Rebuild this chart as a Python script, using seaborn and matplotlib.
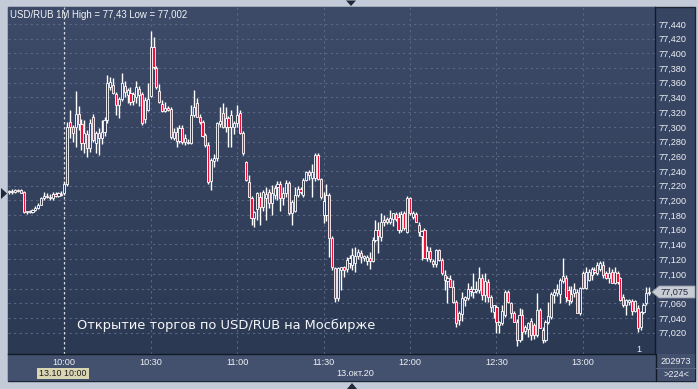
import numpy as np
import pandas as pd
import matplotlib
matplotlib.use("Agg")
import matplotlib.pyplot as plt
import seaborn as sns
from matplotlib.patches import Rectangle, Polygon
from matplotlib.colors import LinearSegmentedColormap

# ---------------- data (1-minute candles from 09:41) ----------------
opens = [77.211, 77.213, 77.211, 77.214, 77.214, 77.212, 77.184, 77.185, 77.184, 77.187,
         77.190, 77.194, 77.203, 77.206, 77.205, 77.203, 77.208, 77.206, 77.209, 77.210,
         77.222, 77.307, 77.300, 77.300, 77.318, 77.304, 77.278, 77.290, 77.271, 77.313,
         77.278, 77.292, 77.285, 77.293, 77.309, 77.354, 77.357, 77.345, 77.330, 77.338,
         77.356, 77.343, 77.346, 77.335, 77.340, 77.352, 77.344, 77.310, 77.323, 77.342,
         77.409, 77.380, 77.349, 77.331, 77.322, 77.326, 77.324, 77.285, 77.293, 77.281,
         77.298, 77.279, 77.280, 77.278, 77.316, 77.333, 77.314, 77.306, 77.289, 77.275,
         77.226, 77.254, 77.258, 77.304, 77.319, 77.300, 77.312, 77.300, 77.300, 77.305,
         77.319, 77.292, 77.252, 77.225, 77.203, 77.176, 77.188, 77.205, 77.191, 77.203,
         77.211, 77.196, 77.207, 77.218, 77.222, 77.203, 77.210, 77.223, 77.183, 77.186,
         77.207, 77.216, 77.207, 77.228, 77.238, 77.230, 77.230, 77.262, 77.229, 77.180,
         77.180, 77.207, 77.149, 77.108, 77.067, 77.105, 77.109, 77.106, 77.115, 77.112,
         77.115, 77.124, 77.128, 77.121, 77.118, 77.122, 77.118, 77.146, 77.160, 77.150,
         77.170, 77.175, 77.171, 77.175, 77.181, 77.178, 77.160, 77.183, 77.157, 77.203,
         77.178, 77.181, 77.167, 77.152, 77.160, 77.122, 77.131, 77.117, 77.113, 77.132,
         77.119, 77.098, 77.090, 77.093, 77.082, 77.062, 77.037, 77.045, 77.064, 77.067,
         77.079, 77.076, 77.077, 77.078, 77.094, 77.071, 77.089, 77.068, 77.048, 77.055,
         77.030, 77.033, 77.044, 77.075, 77.060, 77.047, 77.035, 77.010, 77.044, 77.022,
         77.025, 77.036, 77.030, 77.017, 77.051, 77.024, 77.010, 77.035, 77.041, 77.071,
         77.074, 77.072, 77.090, 77.094, 77.078, 77.072, 77.074, 77.076, 77.047, 77.101,
         77.081, 77.092, 77.099, 77.105, 77.101, 77.106, 77.112, 77.101, 77.095, 77.103,
         77.088, 77.101, 77.094, 77.069, 77.058, 77.062, 77.063, 77.050, 77.054, 77.028,
         77.048, 77.060, 77.074]
highs = [77.214, 77.215, 77.216, 77.216, 77.216, 77.213, 77.186, 77.187, 77.188, 77.192,
         77.196, 77.204, 77.212, 77.210, 77.209, 77.211, 77.212, 77.211, 77.213, 77.226,
         77.306, 77.323, 77.303, 77.349, 77.329, 77.310, 77.309, 77.296, 77.310, 77.318,
         77.295, 77.298, 77.309, 77.314, 77.371, 77.368, 77.366, 77.348, 77.341, 77.373,
         77.362, 77.353, 77.354, 77.347, 77.362, 77.355, 77.347, 77.340, 77.360, 77.430,
         77.422, 77.383, 77.358, 77.336, 77.334, 77.328, 77.327, 77.298, 77.300, 77.303,
         77.302, 77.290, 77.283, 77.330, 77.350, 77.339, 77.318, 77.309, 77.292, 77.279,
         77.258, 77.263, 77.306, 77.327, 77.332, 77.327, 77.315, 77.323, 77.308, 77.330,
         77.323, 77.295, 77.254, 77.235, 77.206, 77.186, 77.212, 77.212, 77.214, 77.218,
         77.215, 77.221, 77.221, 77.226, 77.226, 77.218, 77.228, 77.226, 77.200, 77.218,
         77.219, 77.218, 77.230, 77.240, 77.241, 77.250, 77.265, 77.265, 77.231, 77.212,
         77.222, 77.210, 77.152, 77.110, 77.110, 77.110, 77.111, 77.123, 77.125, 77.135,
         77.137, 77.134, 77.132, 77.126, 77.126, 77.130, 77.150, 77.173, 77.170, 77.183,
         77.180, 77.178, 77.187, 77.183, 77.184, 77.184, 77.185, 77.186, 77.206, 77.205,
         77.185, 77.184, 77.170, 77.160, 77.162, 77.138, 77.136, 77.120, 77.134, 77.134,
         77.122, 77.105, 77.097, 77.098, 77.092, 77.064, 77.050, 77.075, 77.070, 77.088,
         77.083, 77.101, 77.090, 77.109, 77.100, 77.101, 77.093, 77.071, 77.058, 77.058,
         77.036, 77.057, 77.078, 77.078, 77.062, 77.050, 77.038, 77.053, 77.052, 77.030,
         77.034, 77.040, 77.033, 77.074, 77.054, 77.028, 77.037, 77.062, 77.076, 77.080,
         77.086, 77.095, 77.122, 77.098, 77.083, 77.083, 77.088, 77.079, 77.082, 77.104,
         77.110, 77.106, 77.110, 77.110, 77.116, 77.117, 77.117, 77.104, 77.110, 77.106,
         77.110, 77.104, 77.096, 77.072, 77.066, 77.066, 77.066, 77.065, 77.057, 77.050,
         77.060, 77.082, 77.082]
lows = [77.208, 77.209, 77.210, 77.212, 77.210, 77.183, 77.182, 77.183, 77.183, 77.185,
        77.188, 77.193, 77.201, 77.203, 77.201, 77.201, 77.204, 77.204, 77.206, 77.207,
        77.219, 77.285, 77.280, 77.273, 77.296, 77.268, 77.264, 77.259, 77.266, 77.280,
        77.264, 77.262, 77.276, 77.288, 77.305, 77.350, 77.345, 77.316, 77.312, 77.335,
        77.340, 77.333, 77.330, 77.330, 77.332, 77.328, 77.302, 77.305, 77.322, 77.340,
        77.379, 77.352, 77.332, 77.320, 77.320, 77.321, 77.284, 77.282, 77.272, 77.278,
        77.277, 77.275, 77.276, 77.276, 77.313, 77.313, 77.304, 77.286, 77.273, 77.222,
        77.214, 77.246, 77.254, 77.300, 77.298, 77.293, 77.273, 77.273, 77.290, 77.300,
        77.290, 77.262, 77.226, 77.204, 77.166, 77.164, 77.173, 77.167, 77.185, 77.173,
        77.190, 77.180, 77.202, 77.200, 77.185, 77.194, 77.205, 77.180, 77.167, 77.184,
        77.204, 77.209, 77.205, 77.226, 77.228, 77.204, 77.226, 77.228, 77.202, 77.169,
        77.172, 77.123, 77.105, 77.062, 77.063, 77.078, 77.096, 77.102, 77.108, 77.105,
        77.102, 77.120, 77.115, 77.117, 77.112, 77.107, 77.116, 77.143, 77.128, 77.145,
        77.165, 77.168, 77.168, 77.165, 77.172, 77.155, 77.157, 77.159, 77.155, 77.180,
        77.175, 77.170, 77.152, 77.119, 77.121, 77.117, 77.116, 77.110, 77.110, 77.117,
        77.098, 77.078, 77.060, 77.082, 77.061, 77.028, 77.030, 77.036, 77.056, 77.064,
        77.070, 77.067, 77.074, 77.074, 77.064, 77.062, 77.062, 77.048, 77.040, 77.020,
        77.020, 77.030, 77.042, 77.060, 77.040, 77.035, 77.002, 77.007, 77.010, 77.018,
        77.014, 77.010, 77.012, 77.014, 77.026, 77.006, 77.008, 77.032, 77.038, 77.060,
        77.070, 77.060, 77.088, 77.062, 77.058, 77.060, 77.068, 77.047, 77.044, 77.079,
        77.080, 77.090, 77.092, 77.100, 77.099, 77.104, 77.094, 77.093, 77.087, 77.087,
        77.086, 77.086, 77.063, 77.055, 77.044, 77.058, 77.044, 77.048, 77.021, 77.024,
        77.045, 77.058, 77.071]
closes = [77.213, 77.211, 77.214, 77.213, 77.210, 77.184, 77.185, 77.184, 77.187, 77.190,
          77.194, 77.203, 77.206, 77.205, 77.203, 77.208, 77.206, 77.210, 77.207, 77.222,
          77.300, 77.300, 77.292, 77.317, 77.304, 77.278, 77.292, 77.271, 77.305, 77.282,
          77.292, 77.285, 77.293, 77.309, 77.360, 77.361, 77.346, 77.330, 77.338, 77.360,
          77.347, 77.350, 77.334, 77.344, 77.354, 77.343, 77.305, 77.336, 77.338, 77.409,
          77.381, 77.354, 77.334, 77.322, 77.326, 77.323, 77.286, 77.293, 77.281, 77.299,
          77.279, 77.285, 77.278, 77.316, 77.327, 77.314, 77.306, 77.288, 77.275, 77.225,
          77.255, 77.258, 77.305, 77.308, 77.300, 77.312, 77.300, 77.316, 77.305, 77.316,
          77.292, 77.264, 77.228, 77.205, 77.176, 77.184, 77.210, 77.191, 77.211, 77.208,
          77.196, 77.210, 77.217, 77.222, 77.203, 77.210, 77.223, 77.183, 77.198, 77.207,
          77.216, 77.211, 77.228, 77.238, 77.234, 77.238, 77.262, 77.229, 77.204, 77.199,
          77.207, 77.149, 77.109, 77.067, 77.108, 77.109, 77.105, 77.119, 77.121, 77.126,
          77.124, 77.130, 77.123, 77.124, 77.123, 77.118, 77.146, 77.160, 77.152, 77.170,
          77.173, 77.171, 77.176, 77.183, 77.175, 77.160, 77.181, 77.163, 77.203, 77.183,
          77.183, 77.171, 77.157, 77.158, 77.122, 77.131, 77.120, 77.113, 77.132, 77.119,
          77.101, 77.092, 77.094, 77.082, 77.062, 77.033, 77.047, 77.067, 77.069, 77.079,
          77.077, 77.080, 77.080, 77.094, 77.071, 77.090, 77.068, 77.055, 77.058, 77.034,
          77.034, 77.050, 77.075, 77.062, 77.047, 77.035, 77.010, 77.044, 77.021, 77.028,
          77.033, 77.017, 77.017, 77.051, 77.027, 77.010, 77.035, 77.043, 77.072, 77.076,
          77.080, 77.091, 77.097, 77.068, 77.065, 77.063, 77.079, 77.047, 77.081, 77.081,
          77.102, 77.103, 77.106, 77.103, 77.112, 77.115, 77.098, 77.095, 77.101, 77.088,
          77.102, 77.089, 77.065, 77.058, 77.065, 77.064, 77.049, 77.063, 77.027, 77.048,
          77.058, 77.074, 77.075]
first_minute = 9 * 60 + 41
time_labels = ["10:00", "10:30", "11:00", "11:30", "12:00", "12:30", "13:00"]
price_ticks = [round(77.02 + 0.02 * k, 3) for k in range(22)]
title_text = "USD/RUB 1M High = 77,43 Low = 77,002"
note_text = "Открытие торгов по USD/RUB на Мосбирже"
last_price = 77.075
date_text = "13.окт.20"
cursor_text = "13.10 10:00"
volume_text = "202973"
count_text = ">224<"

# ---------------- style ----------------
sns.set_theme(style="dark")
plt.rcParams['font.family'] = ['Liberation Sans', 'DejaVu Sans']

W, H = 698, 389
fig = plt.figure(figsize=(W / 100, H / 100), dpi=100)
fig.patch.set_facecolor('#c2cbd7')

def fx(px):
    return px / W

def fy(py):
    return 1 - py / H

def frect(x0, y0, x1, y1, **kw):
    r = Rectangle((fx(x0), fy(y1)), fx(x1) - fx(x0), fy(y0) - fy(y1),
                  transform=fig.transFigure, **kw)
    fig.add_artist(r)
    return r

# panels (behind the axes)
frect(8, 7, 695, 381, facecolor='#374562', edgecolor='#1b2435', lw=1.0, zorder=-3)
frect(8, 354, 695, 381, facecolor='#43516e', edgecolor='none', zorder=-2)

ax = fig.add_axes([fx(8), fy(354), fx(655) - fx(8), fy(7) - fy(354)])
ax.set_facecolor('none')

# gradient background of plot area
cmap = LinearSegmentedColormap.from_list('bg', ['#2c3953', '#3d4b69'])
grad = np.linspace(0, 1, 256).reshape(-1, 1)
ax.imshow(grad, extent=[0, 1, 0, 1], transform=ax.transAxes, cmap=cmap,
          aspect='auto', origin='lower', zorder=0)

df = pd.DataFrame({'open': opens, 'high': highs, 'low': lows, 'close': closes})
df['minute'] = np.arange(len(df))
df['up'] = df['close'] >= df['open']
body_lo = np.minimum(df['open'], df['close'])
body_hi = np.maximum(df['open'], df['close'])
wick_lo = np.minimum(df['low'], body_lo)
wick_hi = np.maximum(df['high'], body_hi)

# grid
tick_pos = [(int(t[:2]) * 60 + int(t[3:])) - first_minute for t in time_labels]
for v in price_ticks:
    ax.axhline(v, color='#5b6782', lw=0.8, ls=(0, (2, 3)), zorder=1)
for p in tick_pos:
    if p == tick_pos[0]:
        ax.axvline(p, color='#d5d9e0', lw=0.9, ls=(0, (2, 2)), zorder=1)
    else:
        ax.axvline(p, color='#5b6782', lw=0.8, ls=(0, (2, 3)), zorder=1)

# candles
ax.vlines(df['minute'], wick_lo, wick_hi, color='white', lw=1.0, zorder=2)
heights = np.maximum(body_hi - body_lo, 0.0012)
colors = np.where(df['up'], '#33415e', '#ec1239')
ax.bar(df['minute'], heights, bottom=body_lo, width=0.74, color=colors,
       edgecolor='white', linewidth=0.6, zorder=3)

ax.set_xlim(-0.5, 224)
ax.set_ylim(76.991, 77.463)

def price_fmt(v, p):
    if abs(v - 77.08) < 1e-6:
        return ""  # hidden behind the last-price marker
    return f"{v:.3f}".replace('.', ',')

ax.set_yticks(price_ticks)
ax.yaxis.tick_right()
ax.yaxis.set_major_formatter(matplotlib.ticker.FuncFormatter(price_fmt))
ax.tick_params(axis='y', length=0, pad=2.5, labelsize=6.6, labelcolor='#eef0f4')
ax.set_xticks(tick_pos)
ax.set_xticklabels(time_labels)
ax.tick_params(axis='x', length=0, pad=3.2, labelsize=6.6, labelcolor='#eef0f4')
ax.grid(False)
for s in ax.spines.values():
    s.set_color('#121a28')
    s.set_linewidth(1.0)
ax.spines['top'].set_visible(False)
ax.spines['left'].set_visible(False)

# texts
fig.text(fx(10), fy(15), title_text, ha='left', va='center', fontsize=6.9,
         color='#f2f4f7', zorder=10)
fig.text(fx(77), fy(325), note_text, ha='left', va='center', fontsize=9.4,
         family=['DejaVu Sans'], color='#f4f6f9', zorder=10)
fig.text(fx(639), fy(349), "1", ha='center', va='center', fontsize=6.6,
         color='#eef0f4', zorder=10)

# last price marker
yl = fy(292)
poly = Polygon([(fx(652), yl), (fx(659), fy(286)), (fx(695), fy(286)),
                (fx(695), fy(298)), (fx(659), fy(298))], closed=True,
               transform=fig.transFigure, facecolor='#c9ccd3', edgecolor='#8d96a6',
               lw=0.6, zorder=11)
fig.add_artist(poly)
fig.text(fx(661), yl, f"{last_price:.3f}".replace('.', ','), ha='left', va='center',
         fontsize=6.6, color='#1d2940', zorder=12)

# bottom panel texts
frect(37, 368, 89, 379, facecolor='#d9d6b4', edgecolor='none', zorder=5)
fig.text(fx(63), fy(373.8), cursor_text, ha='center', va='center', fontsize=6.4,
         color='#1a1a1a', zorder=6)
fig.text(fx(355), fy(373.5), date_text, ha='center', va='center', fontsize=6.6,
         color='#eef0f4')
fig.text(fx(676), fy(361.5), volume_text, ha='center', va='center', fontsize=6.6,
         color='#eef0f4')
fig.text(fx(676), fy(374.5), count_text, ha='center', va='center', fontsize=6.6,
         color='#eef0f4')
fig.add_artist(plt.Line2D([fx(656), fx(656)], [fy(354), fy(381)],
                          transform=fig.transFigure, color='#121a28', lw=1))
fig.add_artist(plt.Line2D([fx(656), fx(695)], [fy(368), fy(368)],
                          transform=fig.transFigure, color='#5a6680', lw=0.8))

# small triangles on the frame
for pts in ([(1, 188), (7, 193.5), (1, 199)],
            [(346, 0.5), (356, 0.5), (351, 6)],
            [(347, 389), (357, 389), (352, 383)]):
    fig.add_artist(Polygon([(fx(a), fy(b)) for a, b in pts], closed=True,
                           transform=fig.transFigure, facecolor='#1e293a',
                           edgecolor='none', zorder=12))

fig.savefig("out.png", dpi=100, facecolor=fig.get_facecolor())
